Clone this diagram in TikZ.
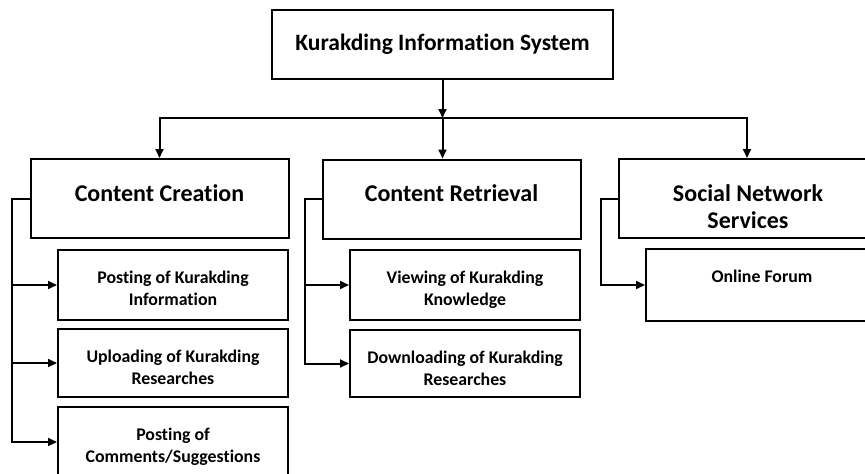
\documentclass[tikz,border=0pt]{standalone}
\usepackage{fontspec}
\setmainfont{Carlito}[Ligatures=NoCommon]
\usetikzlibrary{arrows.meta}

\tikzset{
  topbox/.style={draw, line width=2pt, minimum width=341pt, minimum height=69pt,
    inner sep=0pt, font=\bfseries\fontsize{23.5}{27}\selectfont},
  catbox/.style={draw, line width=2pt, minimum width=258pt, minimum height=79pt, inner sep=0pt},
  leafbox/.style={draw, line width=2pt, minimum width=230pt, inner sep=0pt},
  cattext/.style={anchor=north, inner sep=0pt, yshift=-26pt, align=center,
    font=\bfseries\fontsize{24}{27}\selectfont},
  leaftext/.style={anchor=north, inner sep=0pt, yshift=-22pt, align=center,
    font=\bfseries\fontsize{17.8}{22}\selectfont}
}

\begin{document}
\begin{tikzpicture}[x=1pt, y=-1pt]
    \useasboundingbox (0,0) rectangle (865,474);
    \clip (0,0) rectangle (865,474);
    %% Draw the nodes
    \node[topbox] (top) at (442.5,44.5) {Kurakding Information System};
    \node[catbox, label={[cattext]north:Content Creation}] (cc) at (159.5,198.5) {};
    \node[catbox, label={[cattext]north:Content Retrieval}] (cr) at (451.5,199) {};
    \node[catbox, minimum width=270pt, label={[cattext, xshift=-6pt]north:Social Network\\Services}] (sn) at (754,198.5) {};
    %% Draw the leaves
    \node[leafbox, minimum height=70pt, label={[leaftext]north:Posting of Kurakding\\Information}] (cc1) at (173,285) {};
    \node[leafbox, minimum height=68pt, label={[leaftext]north:Uploading of Kurakding\\Researches}] (cc2) at (173,363) {};
    \node[leafbox, minimum height=70pt, label={[leaftext]north:Posting of\\Comments/Suggestions}] (cc3) at (173,442) {};
    \node[leafbox, minimum height=70pt, label={[leaftext]north:Viewing of Kurakding\\Knowledge}] (cr1) at (465,285) {};
    \node[leafbox, minimum height=67pt, label={[leaftext]north:Downloading of Kurakding\\Researches}] (cr2) at (465,363.5) {};
    \node[leafbox, minimum width=240pt, minimum height=72pt, label={[leaftext, xshift=-4pt]north:Online Forum}] (sn1) at (766,285) {};
    %% Draw the rails
    \coordinate (bus) at (442.5,118);
    \coordinate (ccrail) at (12,198.5);
    \coordinate (crrail) at (305,199);
    \coordinate (snrail) at (601,198.5);
    %% Draw the edges
    \begin{scope}[every path/.style={line width=2pt, -{Triangle[length=9pt,width=8pt]}}]
      \draw (top) -- (bus);
      \draw (bus) -- (bus |- cr.north);
      \draw (bus) -| (cc.north);
      \draw (bus) -| ([xshift=-7pt]sn.north);
      \draw (cc.west) -- (ccrail) |- (cc1.west);
      \draw (cc.west) -- (ccrail) |- (cc2.west);
      \draw (cc.west) -- (ccrail) |- (cc3.west);
      \draw (cr.west) -- (crrail) |- (cr1.west);
      \draw (cr.west) -- (crrail) |- (cr2.west);
      \draw (sn.west) -- (snrail) |- (sn1.west);
    \end{scope}
  \end{tikzpicture}
\end{document}
